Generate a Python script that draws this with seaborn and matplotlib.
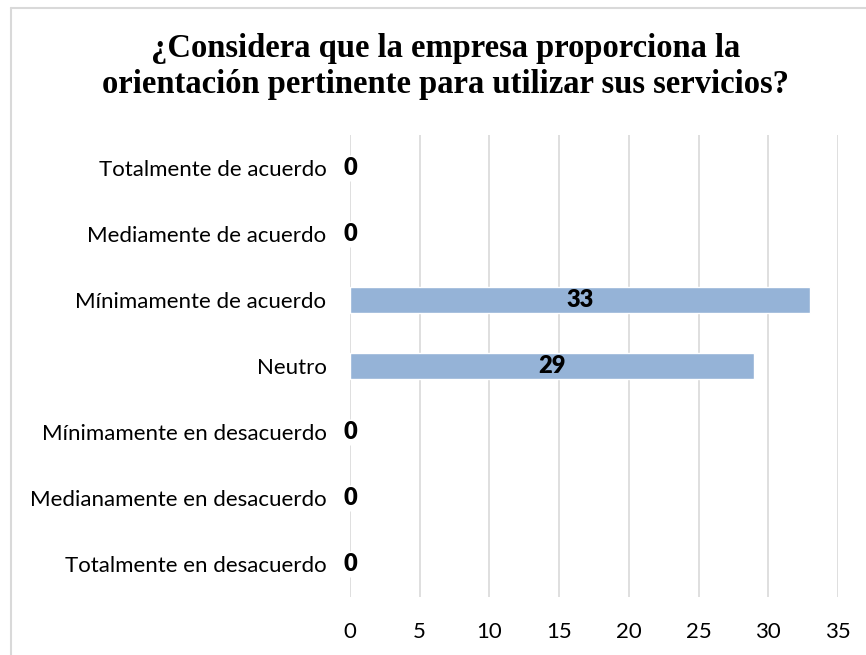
import matplotlib
matplotlib.use("Agg")
import matplotlib.pyplot as plt
import seaborn as sns
import pandas as pd
from matplotlib.lines import Line2D

# data
categorias = ["Totalmente de acuerdo", "Mediamente de acuerdo", "Mínimamente de acuerdo",
              "Neutro", "Mínimamente en desacuerdo", "Medianamente en desacuerdo",
              "Totalmente en desacuerdo"]
valores = [0, 0, 33, 29, 0, 0, 0]
ticks_x = [0, 5, 10, 15, 20, 25, 30, 35]
titulo = "¿Considera que la empresa proporciona la\norientación pertinente para utilizar sus servicios?"

df = pd.DataFrame({"categoria": categorias, "valor": valores})

sns.set_style("white")
plt.rcParams['font.family'] = ['Lato', 'DejaVu Sans']

fig = plt.figure(figsize=(8.66, 6.55), dpi=100)
ax = fig.add_axes([350/866, 58/655, 488/866, 462/655])

sns.barplot(data=df, x="valor", y="categoria", orient="h", color="#95B3D7",
            width=0.4, saturation=1, ax=ax)

ax.set_xlim(0, 35)
ax.set_xticks(ticks_x)
ax.set_xlabel("")
ax.set_ylabel("")
ax.grid(axis="x", color="#D9D9D9", linewidth=1.2)
ax.grid(axis="y", visible=False)
ax.set_axisbelow(True)
for s in ax.spines.values():
    s.set_visible(False)
ax.tick_params(axis="x", length=0, labelsize=16, pad=18, labelcolor="black")
ax.tick_params(axis="y", length=0, labelsize=16, pad=17, labelcolor="black")

# value labels
for i, v in enumerate(valores):
    ax.text(v / 2, i, str(v), ha="center", va="center", fontsize=17,
            fontweight="heavy", color="black")

fig.text(446/866, 1 - 33/655, titulo, ha="center", va="top", fontsize=23.5,
         fontweight="bold", family="Liberation Serif", linespacing=1.2, color="black")

# chart border (top and left edges visible)
fig.add_artist(Line2D([11/866, 1], [1 - 8/655, 1 - 8/655], transform=fig.transFigure,
                      color="#D9D9D9", linewidth=1.5))
fig.add_artist(Line2D([11/866, 11/866], [0, 1 - 8/655], transform=fig.transFigure,
                      color="#D9D9D9", linewidth=1.5))

fig.savefig("out.png", dpi=100)
